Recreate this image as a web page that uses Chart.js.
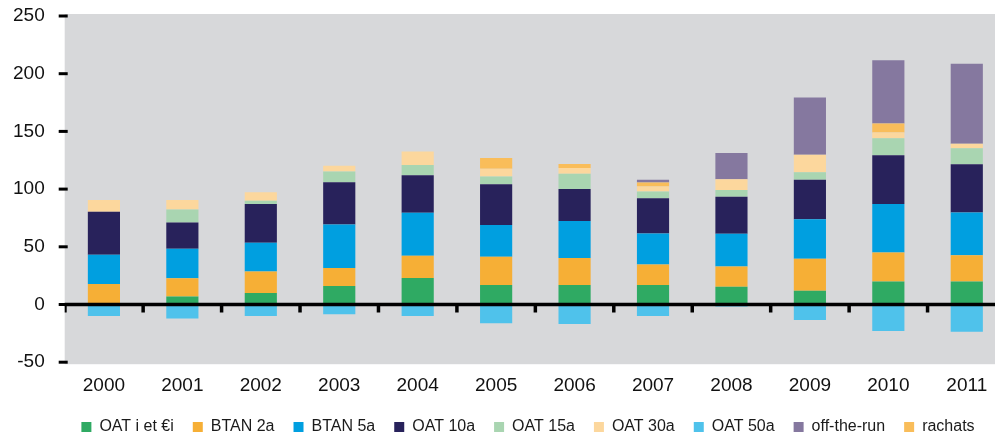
<!DOCTYPE html>
<html>
<head>
<meta charset="utf-8">
<script src="https://cdn.jsdelivr.net/npm/chart.js@4.4.1/dist/chart.umd.min.js"></script>
<style>
  html, body { margin: 0; padding: 0; background: #ffffff; overflow: hidden; }
  #wrap { position: relative; width: 1010px; height: 439px; }
</style>
</head>
<body>
<div id="wrap"><canvas id="c"></canvas></div>
<script>
const years = ["2000","2001","2002","2003","2004","2005","2006","2007","2008","2009","2010","2011"];
const yTicks = [-50, 0, 50, 100, 150, 200, 250];

const oatInfl   = [0, 7, 10, 16, 23, 17, 17, 17, 15.4, 12, 20, 20];
const btan2     = [17.8, 15.7, 18.5, 15.7, 19.2, 24.4, 23.3, 17.7, 17.5, 27.6, 25, 22.7];
const btan5     = [25.3, 25.6, 25.1, 37.6, 37.3, 27.4, 32, 26.8, 28.5, 34.3, 42, 37];
const oat10     = [37.2, 22.7, 33.4, 36.7, 32.6, 35.5, 27.7, 30.6, 32, 34.1, 42.4, 41.9];
const oat15     = [0, 11.4, 3, 9.3, 8.7, 6.7, 13.3, 5.8, 5.9, 6.7, 14.6, 13.7];
const oat30     = [10.2, 8.1, 7.2, 4.9, 11.7, 6.7, 5, 4.4, 9.2, 15.1, 5, 4.1];
const oat50     = [-10, -12.2, -10, -8.4, -10, -16.3, -16.9, -10, -1.7, -13.4, -23, -23.6];
const offTheRun = [0, 0, 0, 0, 0, 0, 0, 2.3, 22.8, 49.5, 54.8, 69.2];
const rachats   = [0, 0, 0, 0, 0, 9.3, 3.5, 3.5, 0, 0, 7.8, 0];

const series = [
  { label: "OAT i et €i", data: oatInfl,   color: "#2faa63", order: 0 },
  { label: "BTAN 2a",     data: btan2,     color: "#f6af36", order: 0 },
  { label: "BTAN 5a",     data: btan5,     color: "#009fe0", order: 0 },
  { label: "OAT 10a",     data: oat10,     color: "#28225b", order: 0 },
  { label: "OAT 15a",     data: oat15,     color: "#a9d5b1", order: 0 },
  { label: "OAT 30a",     data: oat30,     color: "#fcd79d", order: 0 },
  { label: "OAT 50a",     data: oat50,     color: "#4fc2eb", order: 0 },
  { label: "off-the-run", data: offTheRun, color: "#85789f", order: 1 },
  { label: "rachats",     data: rachats,   color: "#f9bd5a", order: 0 }
];

const plotBg = {
  id: "plotBg",
  beforeDraw(chart) {
    const { ctx, chartArea: a } = chart;
    ctx.save();
    ctx.fillStyle = "#d7d8da";
    ctx.fillRect(a.left, a.top - 2, a.right - a.left, a.bottom - a.top + 4);
    ctx.restore();
  }
};

const legendShift = {
  id: "legendShift",
  afterLayout(chart) {
    const lg = chart.legend;
    if (lg) { lg.left += 25; lg.right += 25; }
  }
};

const axesMarks = {
  id: "axesMarks",
  afterDatasetsDraw(chart) {
    const { ctx, chartArea: a, scales } = chart;
    const ys = scales.y;
    const xs = scales.x;
    const y0 = ys.getPixelForValue(0);
    ctx.save();
    ctx.strokeStyle = "#000";
    ctx.lineWidth = 3;
    yTicks.forEach(v => {
      const y = ys.getPixelForValue(v);
      ctx.beginPath();
      ctx.moveTo(a.left - 6, y);
      ctx.lineTo(a.left + 3, y);
      ctx.stroke();
    });
    ctx.lineWidth = 3.5;
    ctx.beginPath();
    ctx.moveTo(a.left, y0);
    ctx.lineTo(a.right, y0);
    ctx.stroke();
    for (let i = 0; i < years.length; i++) {
      let x;
      if (i === 0) { x = a.left + 1; ctx.lineWidth = 2; }
      else { x = (xs.getPixelForValue(i) + xs.getPixelForValue(i - 1)) / 2; ctx.lineWidth = 3.5; }
      ctx.beginPath();
      ctx.moveTo(x, y0);
      ctx.lineTo(x, y0 + 8);
      ctx.stroke();
    }
    ctx.restore();
  }
};

new Chart(document.getElementById("c"), {
  type: "bar",
  data: {
    labels: years,
    datasets: series.map(s => ({
      label: s.label,
      data: s.data,
      backgroundColor: s.color,
      borderWidth: 0,
      order: s.order,
      categoryPercentage: 1,
      barPercentage: 0.41
    }))
  },
  options: {
    responsive: true,
    maintainAspectRatio: false,
    animation: false,
    layout: { padding: { left: 0, right: 4, top: 16, bottom: -6 } },
    plugins: {
      tooltip: { enabled: false },
      legend: {
        position: "bottom",
        labels: {
          sort: (a, b) => a.datasetIndex - b.datasetIndex,
          boxWidth: 10,
          boxHeight: 10,
          padding: 19,
          color: "#1a1a1a",
          font: { family: "'Liberation Sans', Arial, sans-serif", size: 16 }
        }
      }
    },
    scales: {
      x: {
        stacked: true,
        grid: { display: false, drawTicks: false },
        border: { display: false },
        afterFit(scale) { scale.height -= 9; },
        ticks: {
          color: "#111",
          padding: 12,
          font: { family: "'Liberation Sans', Arial, sans-serif", size: 19 }
        }
      },
      y: {
        stacked: true,
        min: -50,
        max: 250,
        afterBuildTicks(scale) { scale.ticks = yTicks.map(v => ({ value: v })); },
        afterFit(scale) { scale.paddingTop = 0; scale.paddingBottom = 0; },
        grid: {
          drawOnChartArea: false,
          drawTicks: true,
          tickLength: 7,
          tickColor: "rgba(0,0,0,0)"
        },
        border: { display: false },
        ticks: {
          color: "#111",
          padding: 13,
          font: { family: "'Liberation Sans', Arial, sans-serif", size: 19 }
        }
      }
    }
  },
  plugins: [plotBg, legendShift, axesMarks]
});
</script>
</body>
</html>
